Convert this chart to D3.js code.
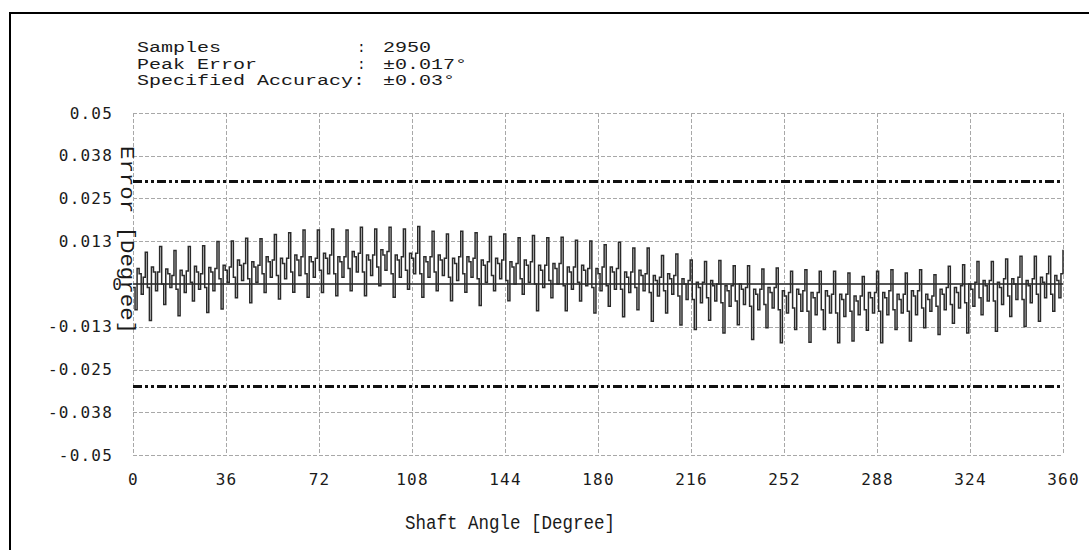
<!DOCTYPE html>
<html>
<head>
<meta charset="utf-8">
<script src="https://cdn.jsdelivr.net/npm/d3@7"></script>
<style>
  html, body { margin: 0; padding: 0; background: #fff; }
  svg { display: block; }
</style>
</head>
<body>
<svg id="chart" width="1089" height="550"></svg>
<script>
// Shaft angle axis (degrees)
const angleTicks = [0, 36, 72, 108, 144, 180, 216, 252, 288, 324, 360];

// Error axis (degrees) and the labels printed for each tick
const errorTicks = [0.05, 0.0375, 0.025, 0.0125, 0, -0.0125, -0.025, -0.0375, -0.05];
const errorTickLabels = ["0.05", "0.038", "0.025", "0.013", "0", "-0.013", "-0.025", "-0.038", "-0.05"];

// Specified accuracy band (degrees)
const accuracyLimits = [0.03, -0.03];

// Summary block
const summaryLabels = ["Samples", "Peak Error", "Specified Accuracy:"];
const summarySeparators = [":", ":", ""];
const summaryValues = ["2950", "\u00B10.017\u00B0", "\u00B10.03\u00B0"];

// Measured angular error in thousandths of a degree, evenly spaced over 0..360
const errorMilli = [
  -1.0, -7.5, 4.5, 3.0, -3.0, 2.0,
  9.3, -1.0, -10.7, 5.0, 3.5, -2.0, 3.5,
  11.0, 0.0, -6.0, 4.4, 3.0, -1.0, 2.5,
  9.8, -1.5, -9.3, 4.0, 2.5, -2.5, 3.8,
  11.0, 0.5, -5.0, 5.2, 3.5, -1.5, 3.0,
  11.2, -1.0, -8.3, 4.8, 3.5, -2.0, 4.5,
  12.4, 1.5, -7.3, 5.5, 4.0, 0.5, 5.0,
  12.6, 2.0, -4.0, 7.0, 5.5, 1.0, 6.0,
  13.4, 1.5, -5.5, 6.5, 5.0, 0.5, 5.5,
  13.2, 3.0, -2.5, 8.0, 6.5, 2.0, 7.0,
  14.5, 2.5, -4.4, 7.5, 6.0, 1.5, 7.5,
  15.0, 3.5, -2.4, 8.5, 7.0, 2.5, 8.0,
  15.8, 3.0, -3.9, 8.0, 6.5, 2.0, 7.5,
  15.8, 4.0, -2.5, 9.0, 7.5, 3.0, 8.5,
  16.1, 3.0, -3.4, 8.0, 6.5, 2.0, 8.0,
  15.8, 4.5, -2.0, 9.5, 8.0, 3.5, 9.0,
  16.6, 3.5, -3.4, 8.5, 7.0, 2.5, 8.5,
  16.1, 5.0, -0.5, 10.0, 8.5, 4.0, 9.5,
  16.6, 3.0, -3.9, 8.5, 7.0, 2.0, 8.0,
  16.1, 4.0, -1.5, 9.0, 7.5, 3.0, 9.0,
  16.8, 3.0, -3.9, 8.0, 6.5, 2.0, 8.0,
  15.4, 3.5, -2.0, 8.5, 7.0, 2.5, 7.5,
  14.6, 2.0, -4.9, 7.5, 6.0, 1.0, 8.0,
  15.4, 3.0, -2.4, 8.0, 6.5, 2.0, 7.5,
  15.0, 1.5, -6.3, 7.0, 5.5, 0.5, 6.5,
  13.9, 2.5, -2.0, 7.5, 6.0, 1.5, 7.0,
  14.6, 1.0, -4.9, 6.5, 5.0, 0.0, 6.0,
  13.5, 1.5, -3.0, 7.0, 5.5, 0.5, 6.5,
  14.2, 0.0, -7.8, 5.5, 4.0, -1.0, 5.5,
  13.5, 1.0, -4.0, 6.0, 4.5, 0.0, 6.0,
  13.7, -0.5, -7.8, 5.0, 3.5, -1.5, 5.0,
  12.8, 0.5, -5.0, 5.5, 4.0, -0.5, 4.5,
  12.6, -1.0, -8.5, 4.5, 3.0, -2.0, 5.0,
  11.5, -0.5, -6.5, 5.0, 3.5, -1.5, 4.5,
  12.2, -1.5, -9.6, 3.5, 2.0, -2.5, 3.5,
  10.5, -1.0, -7.5, 4.0, 2.5, -2.0, 3.0,
  10.5, -2.5, -10.9, 2.5, 1.0, -3.5, 2.0,
  8.3, -2.0, -8.5, 3.0, 1.5, -3.0, 2.5,
  8.8, -3.5, -12.0, 1.5, 0.0, -4.5, 1.0,
  7.0, -4.5, -13.3, 0.5, -1.0, -5.5, 0.5,
  6.6, -4.0, -10.6, 1.0, -0.5, -5.0, 0.0,
  6.9, -5.5, -14.3, -0.5, -2.0, -6.5, -0.5,
  5.3, -5.0, -11.9, 0.0, -1.5, -6.0, -1.0,
  5.3, -6.5, -16.2, -1.5, -3.0, -7.5, -1.5,
  4.4, -6.0, -12.8, -1.0, -2.5, -7.0, -1.0,
  4.7, -7.5, -17.2, -2.0, -3.5, -8.5, -2.5,
  3.7, -7.0, -13.3, -1.5, -3.0, -8.0, -2.0,
  4.2, -8.0, -17.0, -2.5, -4.0, -9.0, -2.5,
  3.7, -7.5, -13.3, -2.0, -3.5, -8.5, -3.0,
  3.7, -8.5, -17.2, -3.0, -4.5, -9.5, -3.0,
  3.2, -8.0, -16.7, -3.5, -5.0, -9.0, -3.5,
  2.2, -7.5, -13.5, -2.5, -4.0, -8.5, -2.5,
  3.7, -8.0, -17.2, -2.5, -4.0, -9.0, -2.0,
  4.2, -7.5, -13.3, -3.0, -4.5, -8.5, -3.0,
  3.2, -8.0, -16.7, -2.0, -3.5, -9.0, -2.0,
  4.2, -7.0, -12.8, -3.0, -4.5, -8.0, -3.5,
  2.7, -6.5, -14.8, -1.5, -3.0, -7.5, -1.0,
  5.2, -6.0, -11.5, -1.0, -2.5, -7.0, -0.5,
  5.6, -5.5, -14.3, 0.0, -1.5, -6.5, 0.5,
  6.6, -4.0, -9.0, 1.0, -0.5, -5.0, 1.0,
  6.6, -5.0, -13.8, 0.5, -1.0, -6.0, 1.5,
  7.3, -3.5, -9.5, 1.5, 0.0, -4.5, 2.0,
  8.1, -4.5, -12.4, 1.0, -0.5, -5.5, 1.5,
  8.1, -3.0, -10.9, 2.0, 0.5, -4.0, 3.0,
  8.1, -3.0, -8.0, 2.5, 1.0, -4.0, 3.0,
  10.0
];

const svg = d3.select("#chart");
const W = 1089, H = 550;
const plot = { left: 133, right: 1063, top: 113, bottom: 455 };

const x = d3.scaleLinear().domain([0, 360]).range([plot.left, plot.right]);
const y = d3.scaleLinear().domain([-0.05, 0.05]).range([plot.bottom, plot.top]);

svg.append("rect").attr("width", W).attr("height", H).attr("fill", "#fff");

// Page frame (top and left edges)
svg.append("path")
  .attr("d", `M10,${H} L10,13 L${W},13`)
  .attr("fill", "none").attr("stroke", "#000").attr("stroke-width", 2);

const monoFont = "'Liberation Mono', 'Courier New', monospace";
const tickFont = "'DejaVu Sans Mono', monospace";

// Summary block: one text per row, label / separator / value columns as tspans
const summary = svg.append("g").attr("font-family", monoFont).attr("font-size", 14.5).attr("fill", "#1a1a1a");
summaryLabels.forEach((lab, i) => {
  const row = summary.append("text").attr("y", 52 + i * 16.5);
  row.append("tspan").attr("x", 137).text(lab)
    .attr("textLength", lab.length * 12).attr("lengthAdjust", "spacingAndGlyphs");
  if (summarySeparators[i]) row.append("tspan").attr("x", 357).text(summarySeparators[i]);
  row.append("tspan").attr("x", 383).text(summaryValues[i])
    .attr("textLength", summaryValues[i].length * 12).attr("lengthAdjust", "spacingAndGlyphs");
});

// Grid
const grid = svg.append("g").attr("stroke", "#a8a8a8").attr("stroke-width", 1).attr("stroke-dasharray", "4,2");
grid.selectAll("line.v").data(angleTicks).join("line").attr("class", "v")
  .attr("x1", d => Math.round(x(d)) + 0.5).attr("x2", d => Math.round(x(d)) + 0.5)
  .attr("y1", plot.top).attr("y2", plot.bottom);
grid.selectAll("line.h").data(errorTicks).join("line").attr("class", "h")
  .attr("x1", plot.left).attr("x2", plot.right)
  .attr("y1", d => Math.round(y(d)) + 0.5).attr("y2", d => Math.round(y(d)) + 0.5);

// Y tick labels
const yAxis = d3.axisLeft(y).tickValues(errorTicks).tickSize(0).tickPadding(20)
  .tickFormat((d, i) => errorTickLabels[i]);
const yg = svg.append("g").attr("transform", `translate(${plot.left},0)`).call(yAxis);
yg.select(".domain").remove();
yg.selectAll("text").attr("font-family", tickFont).attr("font-size", 16)
  .attr("letter-spacing", "1.2px").attr("fill", "#1a1a1a")
  .attr("x", d => d === 0 ? -10 : -20);

// X tick labels
const xAxis = d3.axisBottom(x).tickValues(angleTicks).tickSize(0).tickPadding(19);
const xg = svg.append("g").attr("transform", `translate(0,${plot.bottom})`).call(xAxis);
xg.select(".domain").remove();
xg.selectAll("text").attr("font-family", tickFont).attr("font-size", 16)
  .attr("letter-spacing", "1.2px").attr("fill", "#1a1a1a");

// Axis titles
svg.append("text").attr("x", 510).attr("y", 529).attr("text-anchor", "middle")
  .attr("font-family", monoFont).attr("font-size", 20).attr("fill", "#1a1a1a")
  .attr("textLength", 210).attr("lengthAdjust", "spacingAndGlyphs")
  .text("Shaft Angle [Degree]");

svg.append("text").attr("transform", "translate(121,240) rotate(90)")
  .attr("text-anchor", "middle")
  .attr("font-family", monoFont).attr("font-size", 20).attr("fill", "#1a1a1a")
  .attr("textLength", 188).attr("lengthAdjust", "spacingAndGlyphs")
  .text("Error [Degree]");

// Accuracy limits
svg.selectAll("line.limit").data(accuracyLimits).join("line").attr("class", "limit")
  .attr("x1", plot.left).attr("x2", plot.right)
  .attr("y1", d => y(d)).attr("y2", d => y(d))
  .attr("stroke", "#111").attr("stroke-width", 3).attr("stroke-dasharray", "9,3,3,3,3,3");

// Zero reference
svg.append("line").attr("x1", plot.left).attr("x2", plot.right)
  .attr("y1", y(0)).attr("y2", y(0)).attr("stroke", "#555").attr("stroke-width", 2);

// Error trace
const step = 360 / (errorMilli.length - 1);
const line = d3.line()
  .x((d, i) => x(i * step))
  .y(d => y(d / 1000))
  .curve(d3.curveStepAfter);
svg.append("path").datum(errorMilli).attr("d", line)
  .attr("fill", "none").attr("stroke", "#2b2b2b").attr("stroke-width", 1.5);
</script>
</body>
</html>
